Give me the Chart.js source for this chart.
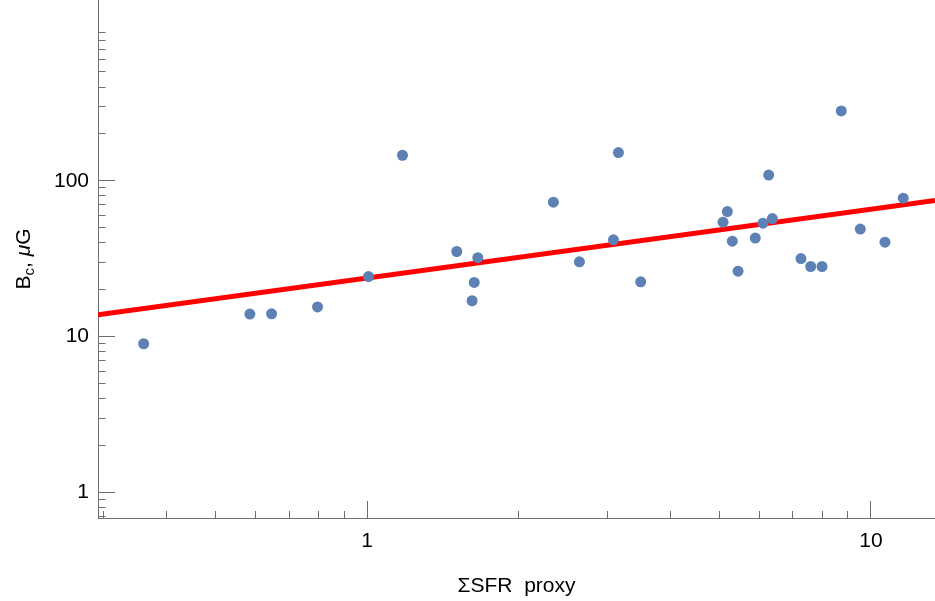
<!DOCTYPE html>
<html>
<head>
<meta charset="utf-8">
<script src="https://cdn.jsdelivr.net/npm/chart.js@4/dist/chart.umd.min.js"></script>
<style>
  html, body { margin: 0; padding: 0; background: #fff; }
  canvas { display: block; }
</style>
</head>
<body>
<canvas id="grafico" width="935" height="601"></canvas>
<script>
/* ======================================================
   DADOS
====================================================== */
const sfrProxy = [0.360, 0.585, 0.646, 0.797, 1.006, 1.175, 1.506, 1.615, 1.631, 1.658,
                  2.342, 2.638, 3.082, 3.153, 3.491, 5.086, 5.187, 5.306, 5.447, 5.893,
                  6.105, 6.266, 6.372, 7.262, 7.592, 7.995, 8.731, 9.524, 10.66, 11.59];
const campoBc = [9.0, 13.95, 14.0, 15.5, 24.3, 146, 35.2, 17.0, 22.3, 32.1,
                 73.0, 30.2, 41.8, 152, 22.5, 54.3, 63.5, 41.0, 26.3, 42.9,
                 53.5, 109, 57.3, 31.7, 28.2, 28.2, 281, 49.0, 40.4, 77.4];

// reta do ajuste (extremos)
const ajusteX = [0.2922, 13.40];
const ajusteY = [13.8, 74.8];

// eixos
const xMin = 0.2922, xMax = 13.40;
const yMin = 0.685, yMax = 1449;
const xTicks = [0.3, 0.4, 0.5, 0.6, 0.7, 0.8, 0.9, 1, 2, 3, 4, 5, 6, 7, 8, 9, 10];
const yTicks = [0.7, 0.8, 0.9, 1, 2, 3, 4, 5, 6, 7, 8, 9, 10, 20, 30, 40, 50, 60, 70, 80, 90,
                100, 200, 300, 400, 500, 600, 700, 800, 900];
const majores = [1, 10, 100];

/* ======================================================
   ESTILO
====================================================== */
const FONTE = '"Liberation Sans", Arial, sans-serif';
const CORES = {
  ponto: "#5E81B5",
  reta: "#FF0000",
  eixo: "#6e6e6e"
};

/* ======================================================
   UTIL
====================================================== */
const ehMajor = v => majores.some(m => Math.abs(m - v) < 1e-9);

function configEixo(lista) {
  return {
    afterBuildTicks: s => { s.ticks = lista.map(v => ({ value: v, major: ehMajor(v) })); },
    grid: {
      drawOnChartArea: false,
      tickLength: -17,
      tickColor: CORES.eixo,
      tickWidth: 1
    },
    border: { color: CORES.eixo, width: 1 }
  };
}

const eixoX = configEixo(xTicks);
eixoX.type = "logarithmic";
eixoX.position = "bottom";
eixoX.min = xMin;
eixoX.max = xMax;
eixoX.bounds = "data";
eixoX.grid.tickBorderDash = ctx => (ctx.tick && ctx.tick.major) ? [] : [8, 100];
eixoX.ticks = {
  autoSkip: false, maxRotation: 0, padding: 28, color: "#000",
  font: { family: FONTE, size: 21 },
  callback: v => ehMajor(v) ? String(v) : ""
};
eixoX.title = {
  display: true, text: "\u03A3SFR  proxy", color: "#000",
  font: { family: FONTE, size: 21 }, padding: { bottom: 2 }
};
eixoX.afterFit = s => { s.height = 83; s.paddingLeft = 0; s.paddingRight = 0; };

const eixoY = configEixo(yTicks);
eixoY.type = "logarithmic";
eixoY.position = "left";
eixoY.min = yMin;
eixoY.max = yMax;
eixoY.bounds = "data";
eixoY.grid.tickBorderDash = ctx => (ctx.tick && ctx.tick.major) ? [] : [0, 9.5, 8, 100];
eixoY.ticks = {
  autoSkip: false, padding: 26, color: "#000",
  font: { family: FONTE, size: 21 },
  callback: v => ehMajor(v) ? String(v) : ""
};
eixoY.afterFit = s => { s.width = 98; s.paddingTop = 0; s.paddingBottom = 0; };

/* ======================================================
   TITULO DO EIXO Y (com subscrito)
====================================================== */
const tituloY = {
  id: "tituloY",
  afterDraw(chart) {
    const ctx = chart.ctx;
    const area = chart.chartArea;
    const partes = [
      { t: "B", f: "21px " + FONTE, dy: 0 },
      { t: "c", f: "15px " + FONTE, dy: 4 },
      { t: ", ", f: "21px " + FONTE, dy: 0 },
      { t: "\u03BC", f: "italic 21px " + FONTE, dy: 0 },
      { t: "G", f: "21px " + FONTE, dy: 0 }
    ];
    ctx.save();
    let total = 0;
    partes.forEach(p => { ctx.font = p.f; p.w = ctx.measureText(p.t).width; total += p.w; });
    ctx.translate(30, (area.top + area.bottom) / 2);
    ctx.rotate(-Math.PI / 2);
    ctx.fillStyle = "#000";
    ctx.textBaseline = "alphabetic";
    let x = -total / 2;
    partes.forEach(p => {
      ctx.font = p.f;
      ctx.fillText(p.t, x, p.dy);
      x += p.w;
    });
    ctx.restore();
  }
};

/* ======================================================
   GRAFICO
====================================================== */
const pontos = sfrProxy.map((x, i) => ({ x, y: campoBc[i] }));
const reta = ajusteX.map((x, i) => ({ x, y: ajusteY[i] }));

new Chart(document.getElementById("grafico"), {
  type: "scatter",
  data: {
    datasets: [
      {
        data: pontos,
        backgroundColor: CORES.ponto,
        borderWidth: 0,
        pointRadius: 5.5
      },
      {
        type: "line",
        data: reta,
        borderColor: CORES.reta,
        borderWidth: 5,
        pointRadius: 0,
        fill: false
      }
    ]
  },
  options: {
    responsive: false,
    animation: false,
    layout: { padding: 0, autoPadding: false },
    plugins: { legend: { display: false }, tooltip: { enabled: false } },
    scales: { x: eixoX, y: eixoY }
  },
  plugins: [tituloY]
});
</script>
</body>
</html>
